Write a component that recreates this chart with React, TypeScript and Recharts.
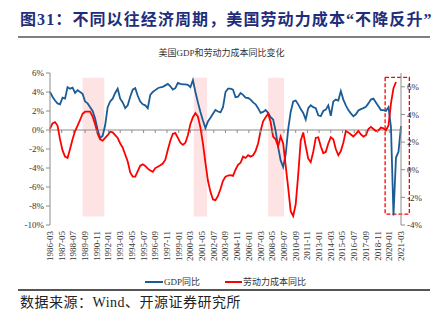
import React from "react";
import { LineChart, Line, XAxis, YAxis, ReferenceArea, ReferenceLine } from "recharts";

// x axis labels, one every 14 months starting 1986-03
const TICK_LABELS = [
  "1986-03", "1987-05", "1988-07", "1989-09", "1990-11", "1992-01", "1993-03", "1994-05",
  "1995-07", "1996-09", "1997-11", "1999-01", "2000-03", "2001-05", "2002-07", "2003-09",
  "2004-11", "2006-01", "2007-03", "2008-05", "2009-07", "2010-09", "2011-11", "2013-01",
  "2014-03", "2015-05", "2016-07", "2017-09", "2018-11", "2020-01", "2021-03",
];
const TICK_STEP = 14;

// quarterly, 1986Q1 .. 2021Q1 (left axis, %)
const GDP = [
  4.0, 3.5, 3.1, 2.8, 2.7, 3.4, 3.3, 4.5, 4.35, 4.45,
  3.9, 4.2, 4.0, 3.8, 3.0, 2.8, 2.4, 2.0, 1.2, 0.0,
  -0.85, -0.6, 0.5, 2.4, 3.0, 3.3, 3.9, 4.35, 3.3, 2.9,
  2.3, 2.6, 3.5, 4.25, 4.4, 3.6, 3.0, 2.7, 2.6, 2.3,
  3.7, 4.0, 4.2, 4.4, 4.5, 4.55, 4.7, 4.85, 4.6, 4.25,
  4.4, 4.95, 4.85, 4.8, 4.8, 4.75, 4.5, 5.25, 4.0, 2.9,
  1.9, 1.0, 0.2, 0.9, 1.3, 1.7, 2.1, 1.95, 1.85, 2.4,
  4.0, 4.35, 4.35, 4.25, 3.45, 3.5, 3.9, 3.7, 3.4, 3.37,
  3.2, 2.9, 2.7, 2.3, 1.8, 1.9, 2.1, 1.8, 1.35, 1.1,
  -0.1, -1.8, -3.2, -3.9, -2.6, 0.1, 1.9, 3.0, 3.1, 2.7,
  2.2, 1.8, 1.1, 2.3, 2.6, 2.4, 2.3, 1.55, 1.45, 2.0,
  2.14, 2.6, 1.5, 3.0, 3.2, 3.1, 4.1, 3.2, 2.6, 2.1,
  1.75, 1.45, 1.65, 2.05, 2.2, 2.3, 2.45, 2.8, 3.2, 3.3,
  2.9, 2.5, 2.1, 2.1, 2.0, 2.4, 0.3, -9.0, -2.9, -2.3,
  0.4,
];

// quarterly, 1986Q1 .. 2020Q3 (right axis, %)
const LABOR = [
  2.95, 3.35, 3.45, 3.2, 2.2, 1.4, 0.95, 0.85, 1.5, 2.2,
  2.8, 3.2, 3.6, 4.05, 4.2, 4.2, 4.2, 3.85, 3.3, 2.6,
  2.2, 2.1, 2.3, 2.5, 2.75, 2.7, 2.5, 2.3, 1.9, 1.6,
  1.1, 0.6, -0.2, -0.5, -0.5, -0.1, 0.3, 0.39, 0.28, 0.08,
  -0.05, -0.15, 0.12, 0.22, 0.33, 0.45, 0.73, 1.45, 2.1, 2.6,
  2.65, 2.3, 1.95, 1.8, 1.95, 2.5, 3.3, 3.8, 4.1, 3.85,
  3.05, 1.9, 0.5, -0.8, -1.6, -2.15, -2.2, -1.9, -1.4, -0.8,
  -0.5, -0.42, -0.39, -0.45, 0.0, 0.35, 0.5, 0.95, 0.85, 1.05,
  0.95, 1.05, 1.35, 1.9, 2.8, 3.5, 3.8, 4.05, 3.45, 2.4,
  2.2, 1.7, 2.4, 1.9, 0.3, -1.3, -3.0, -3.35, -2.5, -0.35,
  2.1, 2.7, 1.7, 0.8, 0.55, 1.3, 2.3, 2.35, 1.7, 1.2,
  1.3, 1.9, 2.35, 2.2, 1.5, 1.05, 1.35, 1.95, 2.8, 2.7,
  2.55, 2.4, 2.6, 2.8, 2.55, 2.4, 2.5, 2.95, 3.1, 2.95,
  2.8, 2.85, 3.05, 3.0, 2.85, 3.2, 4.8, 5.9, 6.35, null,
  null,
];

// shaded periods, in months since 1986-03
const RECESSIONS = [
  [39, 65],
  [172, 188],
  [261, 280],
];
const HIGHLIGHT = [401, 430];

const LEFT_TICKS = [-10, -8, -6, -4, -2, 0, 2, 4, 6];
const RIGHT_TICKS = [-4, -2, 0, 2, 4, 6];

const data = GDP.map((g, i) => ({ m: i * 3, gdp: g, labor: LABOR[i] }));

const W = 443;
const H = 322;
const PLOT_TOP = 73;
const PLOT_BOTTOM = 225;
const ZERO_Y = PLOT_TOP + ((PLOT_BOTTOM - PLOT_TOP) * 6) / 16;
const SERIF = '"Liberation Serif", "Times New Roman", "Noto Sans CJK SC", serif';
const AXIS = "#8c8c8c";

function MonthTick({ x, payload }: any) {
  const label = TICK_LABELS[Math.round(payload.value / TICK_STEP)];
  return (
    <g>
      <line x1={x} x2={x} y1={ZERO_Y} y2={ZERO_Y + 3} stroke={AXIS} />
      <text
        transform={`translate(${x},231) rotate(-90)`}
        textAnchor="end"
        dy="0.33em"
        fontSize={9}
        fill="#333"
        fontFamily={SERIF}
      >
        {label}
      </text>
    </g>
  );
}

export default function App() {
  const tickStyle = { fontSize: 9, fill: "#333", fontFamily: SERIF };
  return (
    <div style={{ position: "fixed", left: 0, top: 0, width: W, height: H, background: "#fff", overflow: "hidden" }}>
      <div
        style={{
          position: "absolute", left: 20, top: 9, fontSize: 16, lineHeight: "22px", fontWeight: 700,
          letterSpacing: 1.1, color: "#1f2e7a", fontFamily: SERIF, whiteSpace: "nowrap",
        }}
      >
        图31：不同以往经济周期，美国劳动力成本“不降反升”
      </div>
      <div style={{ position: "absolute", left: 18, top: 36, width: 412, height: 2, background: "#808080" }} />
      <div
        style={{
          position: "absolute", left: 0, width: W, top: 46, textAlign: "center", fontSize: 9,
          lineHeight: "14px", color: "#333", fontFamily: SERIF,
        }}
      >
        美国GDP和劳动力成本同比变化
      </div>

      <div style={{ position: "absolute", left: 0, top: 0 }}>
        <LineChart width={W} height={H} data={data} margin={{ top: PLOT_TOP, right: 0, left: 0, bottom: H - PLOT_BOTTOM - 40 }}>
          <XAxis
            dataKey="m"
            type="number"
            domain={[0, 420]}
            ticks={TICK_LABELS.map((_, i) => i * TICK_STEP)}
            interval={0}
            height={40}
            axisLine={false}
            tickLine={false}
            tick={<MonthTick />}
          />
          <YAxis
            yAxisId="left"
            width={50}
            domain={[-10, 6]}
            ticks={LEFT_TICKS}
            interval={0}
            tickSize={4}
            tickMargin={2}
            axisLine={{ stroke: AXIS }}
            tickLine={{ stroke: AXIS }}
            tick={tickStyle}
            tickFormatter={(v) => `${v}%`}
          />
          <YAxis
            yAxisId="right"
            orientation="right"
            width={42}
            domain={[-4, 7]}
            ticks={RIGHT_TICKS}
            interval={0}
            tickSize={4}
            tickMargin={2}
            axisLine={{ stroke: AXIS }}
            tickLine={{ stroke: AXIS }}
            tick={tickStyle}
            tickFormatter={(v) => `${v}%`}
          />
          {RECESSIONS.map(([a, b]) => (
            <ReferenceArea key={a} yAxisId="left" x1={a} x2={b} y1={-9.1} y2={5.5} fill="#fde3e3" fillOpacity={1} stroke="none" />
          ))}
          <ReferenceLine yAxisId="left" y={0} stroke={AXIS} strokeWidth={1.2} />
          <ReferenceArea
            yAxisId="left"
            x1={HIGHLIGHT[0]}
            x2={HIGHLIGHT[1]}
            y1={-8.85}
            y2={5.55}
            fill="none"
            stroke="#ff0000"
            strokeWidth={1.3}
            strokeDasharray="4 2"
            ifOverflow="visible"
          />
          <Line yAxisId="left" dataKey="gdp" stroke="#1b5c96" strokeWidth={1.8} dot={false} isAnimationActive={false} />
          <Line yAxisId="right" dataKey="labor" stroke="#ff0000" strokeWidth={1.8} dot={false} isAnimationActive={false} />
        </LineChart>
      </div>

      <div style={{ position: "absolute", left: 145, top: 281, width: 18, height: 2, background: "#1b5c96" }} />
      <div style={{ position: "absolute", left: 164, top: 276, fontSize: 9, lineHeight: "12px", color: "#333", fontFamily: SERIF }}>
        GDP同比
      </div>
      <div style={{ position: "absolute", left: 225, top: 281, width: 17, height: 2, background: "#ff0000" }} />
      <div style={{ position: "absolute", left: 243, top: 276, fontSize: 9, lineHeight: "12px", color: "#333", fontFamily: SERIF }}>
        劳动力成本同比
      </div>

      <div style={{ position: "absolute", left: 18, top: 289, width: 412, height: 1.5, background: "#555" }} />
      <div
        style={{
          position: "absolute", left: 20, top: 294, fontSize: 14, lineHeight: "17px", color: "#222",
          letterSpacing: 0.5, fontFamily: SERIF, whiteSpace: "nowrap",
        }}
      >
        数据来源：Wind、开源证券研究所
      </div>
    </div>
  );
}
